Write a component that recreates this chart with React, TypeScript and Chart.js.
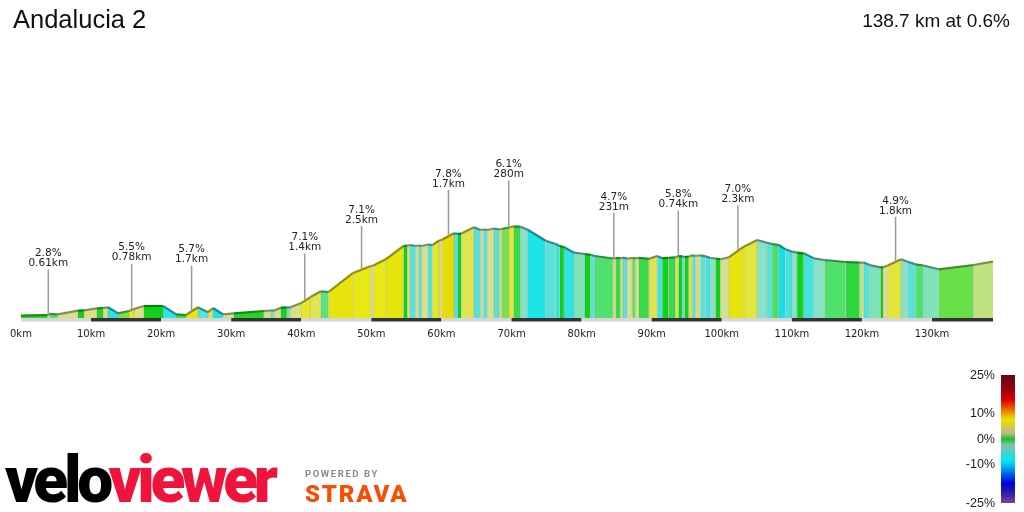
import React, { useEffect, useRef } from "react";
import { Chart, registerables } from "chart.js";

Chart.register(...registerables);

// ---------- data ----------
const totalKm = 138.7;
const avgGradeText = "0.6%";
const routeName = "Andalucia 2";

const distanceKm = [
  0, 3.82, 4.08, 5.25, 8.14, 9.0, 10.85, 11.71, 12.42, 13.84, 15.41, 16.12, 17.55, 20.26, 22.11, 23.54,
  25.25, 26.68, 27.39, 28.81, 30.38, 34.66, 35.66, 36.09, 37.08, 37.94, 38.37, 39.93, 41.26, 42.79, 43.88,
  47.31, 49.91, 50.3, 52.05, 54.58, 55.15, 55.52, 56.33, 56.76, 57.18, 58.04, 58.71, 59.65, 60.14, 61.79,
  62.36, 62.85, 64.64, 65.6, 65.98, 66.55, 67.49, 68.21, 68.55, 69.63, 70.34, 71.3, 72.25, 74.86, 76.29,
  76.86, 77.47, 78.9, 80.47, 81.28, 81.89, 84.46, 84.84, 85.56, 85.91, 86.51, 87.22, 87.7, 88.17, 89.59,
  90.79, 91.5, 92.4, 93.4, 93.82, 94.35, 94.68, 95.29, 95.78, 96.25, 96.54, 96.96, 97.67, 98.39, 99.1,
  99.82, 101.0, 103.14, 105.05, 106.47, 107.19, 108.13, 109.08, 110.04, 110.75, 111.69, 113.12, 114.64,
  117.64, 119.68, 120.25, 121.1, 122.63, 123.01, 123.67, 125.58, 126.52, 127.62, 128.8, 130.94, 135.93, 138.7,
];

const elevationM = [
  25, 30, 42, 37, 73, 77, 97, 100, 107, 47, 70, 90, 120, 120, 37, 30,
  107, 57, 100, 37, 47, 70, 75, 73, 103, 107, 104, 147, 207, 267, 260,
  447, 520, 525, 587, 720, 723, 730, 720, 725, 720, 735, 730, 773, 785, 847,
  842, 845, 907, 880, 885, 880, 895, 885, 890, 905, 917, 912, 885, 773, 740,
  720, 710, 653, 640, 632, 620, 595, 600, 598, 604, 594, 600, 597, 602, 591,
  620, 598, 602, 607, 620, 617, 610, 613, 627, 620, 625, 627, 617, 600, 595,
  587, 607, 713, 780, 753, 740, 730, 687, 663, 653, 647, 597, 580,
  560, 553, 555, 530, 507, 507, 525, 587, 563, 537, 525, 487, 530, 563,
];

// gradient (%) of each segment
const segmentGrade = [
  0.2, 2.8, -0.6, 2.5, 0, 2.5, 0.2, 2, -4, 0.9, 5, 2.5, 0, -4, -0.3,
  5.7, -3, 4, -4.5, 2, 0.2, 2, -2.5, 2.5, 0, -2.5, 2.5, 5, 4, -0.9,
  6, 5.5, 2.5, 5.5, 6, 0, 2.5, -3, 2.5, -3, 2.5, -3, 5, 3, 7,
  -3, 0, 4, -3, 2.5, -3, 2.5, -3, 2.5, 0.9, 4.5, -0.3, -2, -4.5, -3,
  -4, 0, -4, -1.8, 0, -3, -0.6, 3, -0.3, 3, -3, 2.2, 0.8, 2, -0.3,
  4, -3.5, 0, -0.3, 4, 0, -3, 0, 4, -3, 3.5, 2, -3, -3.5, -2,
  0, 2, 6, 4.5, -2, -3, -0.5, -5, -3.5, -2, 0, -3.5, -2,
  -0.6, -0.2, 1.5, -3.2, -1.8, 0, 2.5, 4.5, -2, -3, -0.6, -1.8, 0.8, 1.3,
];

const climbKm = [3.9, 15.8, 24.35, 40.5, 48.6, 61.0, 69.6, 84.6, 93.8, 102.3, 124.8];
const climbGrade = ["2.8%", "5.5%", "5.7%", "7.1%", "7.1%", "7.8%", "6.1%", "4.7%", "5.8%", "7.0%", "4.9%"];
const climbLength = ["0.61km", "0.78km", "1.7km", "1.4km", "2.5km", "1.7km", "280m", "231m", "0.74km", "2.3km", "1.8km"];
const climbLabelElev = [487, 543, 523, 643, 920, 1280, 1375, 1052, 1075, 1127, 1012];

const legendTicks = [25, 10, 0, -10, -25];
const kmStep = 10;

// ---------- styling helpers ----------
const fillStops: [number, string][] = [
  [-25, "#7b3f9e"], [-20, "#2b2ba8"], [-15, "#0000e6"], [-11, "#0078ff"], [-7, "#10c8f0"],
  [-4.5, "#1ce4e8"], [-3, "#5ae2d8"], [-2, "#88e2c8"], [-0.6, "#50e06e"], [-0.2, "#30d840"],
  [0, "#10d218"], [0.8, "#68e048"], [1.3, "#c0e280"], [2.2, "#d8e094"], [3, "#dce070"],
  [4, "#e0e450"], [5.5, "#e8e814"], [7, "#e8dc00"], [10, "#f09000"], [15, "#e00000"],
  [20, "#900000"], [25, "#500000"],
];

function hexRgb(h: string): number[] {
  const n = parseInt(h.slice(1), 16);
  return [(n >> 16) & 255, (n >> 8) & 255, n & 255];
}

function gradeRgb(g: number): number[] {
  if (g <= fillStops[0][0]) return hexRgb(fillStops[0][1]);
  for (let i = 0; i < fillStops.length - 1; i++) {
    const [a, ca] = fillStops[i];
    const [b, cb] = fillStops[i + 1];
    if (g >= a && g <= b) {
      const t = (g - a) / (b - a);
      const A = hexRgb(ca), B = hexRgb(cb);
      return A.map((v, k) => Math.round(v + (B[k] - v) * t));
    }
  }
  return hexRgb(fillStops[fillStops.length - 1][1]);
}

const fillColor = (g: number) => {
  const [r, gg, b] = gradeRgb(g);
  return `rgb(${r},${gg},${b})`;
};
const edgeColor = (g: number) => {
  const [r, gg, b] = gradeRgb(g).map((v) => Math.round(v * 0.62));
  return `rgb(${r},${gg},${b})`;
};

function elevAt(km: number): number {
  for (let i = 0; i < distanceKm.length - 1; i++) {
    if (km >= distanceKm[i] && km <= distanceKm[i + 1]) {
      const t = (km - distanceKm[i]) / (distanceKm[i + 1] - distanceKm[i]);
      return elevationM[i] + (elevationM[i + 1] - elevationM[i]) * t;
    }
  }
  return elevationM[elevationM.length - 1];
}

const profileExtras = {
  id: "profileExtras",
  beforeDatasetDraw(chart: any) {
    const { ctx, chartArea, scales } = chart;
    const x = scales.x, y = scales.y;
    ctx.save();
    ctx.strokeStyle = "rgba(120,120,120,0.28)";
    ctx.lineWidth = 1;
    for (let i = 1; i < distanceKm.length - 1; i++) {
      const px = x.getPixelForValue(distanceKm[i]);
      const py = y.getPixelForValue(elevationM[i]);
      ctx.beginPath();
      ctx.moveTo(px, py);
      ctx.lineTo(px, chartArea.bottom);
      ctx.stroke();
    }
    ctx.restore();
  },
  afterDatasetsDraw(chart: any) {
    const { ctx, chartArea, scales } = chart;
    const x = scales.x, y = scales.y;
    ctx.save();
    // distance strip
    for (let i = 0; i * kmStep < totalKm; i++) {
      const x0 = x.getPixelForValue(i * kmStep);
      const x1 = x.getPixelForValue(Math.min((i + 1) * kmStep, totalKm));
      ctx.fillStyle = i % 2 === 0 ? "#d6d6d6" : "#333333";
      ctx.fillRect(x0, chartArea.bottom, x1 - x0, 3.5);
    }
    // climb annotations
    ctx.font = '10.5px "DejaVu Sans"';
    ctx.textAlign = "center";
    ctx.textBaseline = "middle";
    for (let i = 0; i < climbKm.length; i++) {
      const px = x.getPixelForValue(climbKm[i]);
      const top = y.getPixelForValue(climbLabelElev[i]);
      const bottom = y.getPixelForValue(elevAt(climbKm[i]));
      ctx.strokeStyle = "#9a9a9a";
      ctx.lineWidth = 1.5;
      ctx.beginPath();
      ctx.moveTo(px, top);
      ctx.lineTo(px, bottom);
      ctx.stroke();
      ctx.fillStyle = "#222";
      ctx.fillText(climbGrade[i], px, top - 16);
      ctx.fillText(climbLength[i], px, top - 6);
    }
    ctx.restore();
  },
};

const legendGradient =
  "linear-gradient(to bottom, #5a0a10 0%, #a00010 11.7%, #e00000 19.6%, #f07000 27.4%, #f0b000 31.3%, #f0e000 35.2%, #d0c850 40.5%, #c0b890 45.4%, #20c020 50.1%, #80c0b0 54.8%, #50d0d0 60%, #00e8f0 66.6%, #00b0f0 71.8%, #0050f0 78.3%, #0000e0 84.6%, #2020b0 91.4%, #804090 100%)";

export default function App() {
  const ref = useRef<HTMLCanvasElement>(null);

  useEffect(() => {
    if (!ref.current) return;
    const points = distanceKm.map((d, i) => ({ x: d, y: elevationM[i] }));
    const chart = new Chart(ref.current, {
      type: "line",
      data: {
        datasets: [
          {
            data: points,
            fill: "origin",
            backgroundColor: "#10d218",
            borderColor: "#777",
            borderWidth: 2.2,
            pointRadius: 0,
            tension: 0,
            segment: {
              backgroundColor: (c: any) => fillColor(segmentGrade[c.p0DataIndex] ?? 0),
              borderColor: (c: any) => edgeColor(segmentGrade[c.p0DataIndex] ?? 0),
            },
          } as any,
        ],
      },
      options: {
        responsive: false,
        animation: false,
        layout: { padding: { left: 20, right: 31, top: 58, bottom: 164 } },
        plugins: { legend: { display: false }, tooltip: { enabled: false }, title: { display: false } },
        scales: {
          x: {
            type: "linear",
            min: 0,
            max: totalKm,
            grid: { display: false, drawTicks: false },
            border: { display: false },
            afterFit: (s: any) => {
              s.height = 30;
            },
            ticks: {
              stepSize: kmStep,
              includeBounds: false,
              autoSkip: false,
              maxRotation: 0,
              padding: 10,
              color: "#222",
              font: { family: "DejaVu Sans", size: 10 },
              callback: (v: any) => `${v}km`,
            },
          },
          y: { display: false, min: 0, max: 2600 },
        },
      },
      plugins: [profileExtras],
    } as any);
    return () => chart.destroy();
  }, []);

  const legendTop = 375;
  const legendH = 127.5;

  return (
    <div style={{ position: "absolute", left: 0, top: 0, width: 1024, height: 512, background: "#fff", overflow: "hidden" }}>
      <canvas ref={ref} width={1024} height={512} style={{ position: "absolute", left: 0, top: 0, width: 1024, height: 512 }} />
      <div style={{ position: "absolute", left: 13, top: 6.5, fontFamily: '"Liberation Sans", Arial, sans-serif', fontSize: 25.5, lineHeight: "25px", color: "#111", whiteSpace: "nowrap" }}>
        {routeName}
      </div>
      <div style={{ position: "absolute", right: 14, top: 11, fontFamily: '"Liberation Sans", Arial, sans-serif', fontSize: 19, lineHeight: "19px", color: "#111", whiteSpace: "nowrap" }}>
        {`${totalKm} km at ${avgGradeText}`}
      </div>
      {/* gradient legend */}
      <div style={{ position: "absolute", left: 1001, top: legendTop, width: 14, height: legendH, background: legendGradient }} />
      {legendTicks.map((v) => (
        <div
          key={v}
          style={{
            position: "absolute",
            right: 1024 - 995,
            top: legendTop + ((25 - v) / 50) * legendH - 7,
            fontFamily: '"Liberation Sans", Arial, sans-serif',
            fontSize: 12.5,
            lineHeight: "14px",
            color: "#222",
            whiteSpace: "nowrap",
          }}
        >
          {`${v}%`}
        </div>
      ))}
      {/* logos */}
      <div style={{ position: "absolute", left: 5, top: 449, fontFamily: "Roboto, sans-serif", fontWeight: 900, fontSize: 64, lineHeight: "64px", letterSpacing: "-4.3px", whiteSpace: "nowrap" }}>
        <span style={{ color: "#000" }}>velo</span>
        <span style={{ color: "#f0143c" }}>viewer</span>
      </div>
      <div style={{ position: "absolute", left: 305, top: 468.5, fontFamily: "Roboto, sans-serif", fontWeight: 700, fontSize: 9.5, lineHeight: "9.5px", letterSpacing: "1.6px", color: "#8a8a8a", whiteSpace: "nowrap" }}>
        POWERED BY
      </div>
      <div style={{ position: "absolute", left: 305, top: 482, fontFamily: "Roboto, sans-serif", fontWeight: 900, fontSize: 24, lineHeight: "24px", letterSpacing: "1.8px", color: "#fc4c02", whiteSpace: "nowrap" }}>
        STRAVA
      </div>
    </div>
  );
}
